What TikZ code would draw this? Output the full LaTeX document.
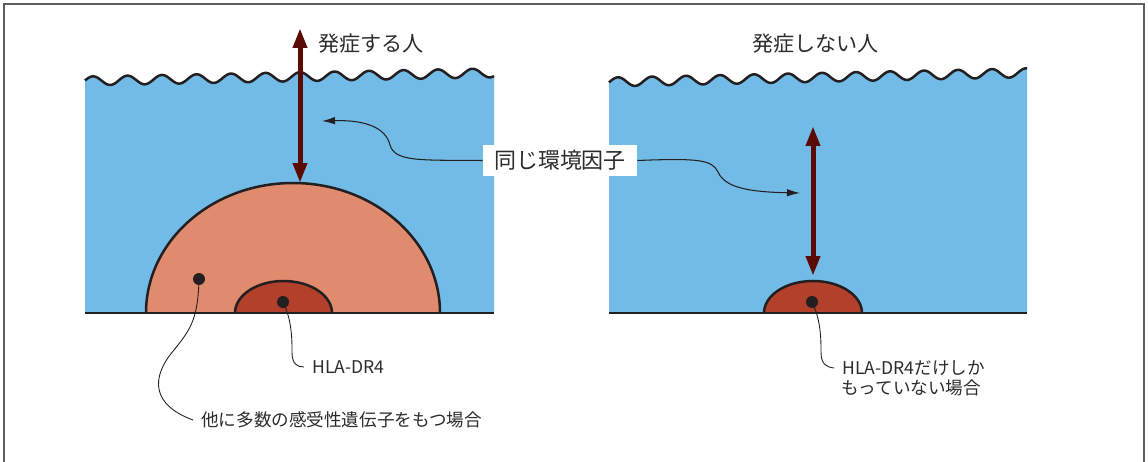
\documentclass[tikz,border=0pt]{standalone}
\usepackage{fontspec}
\setmainfont{Noto Sans CJK JP}
\usetikzlibrary{arrows.meta}
\definecolor{water}{HTML}{72BBE6}
\definecolor{salmon}{HTML}{E08A6E}
\definecolor{brick}{HTML}{B3402A}
\definecolor{maroon}{HTML}{5C0A05}
\definecolor{ink}{HTML}{231F20}
\definecolor{txt}{HTML}{2B2B2B}
\definecolor{framegray}{HTML}{5E5E5E}
\tikzset{
  waveline/.style={draw=ink, line width=0.05cm},
  groundline/.style={draw=ink, line width=0.05cm},
  dome/.style={draw=ink, line width=0.05cm},
  dot/.style={circle, fill=ink, inner sep=0pt, minimum size=0.24cm},
  bigarrow/.style={draw=maroon, line width=0.1cm, {Triangle[length=0.4cm,width=0.27cm]}-{Triangle[length=0.4cm,width=0.27cm]}},
  leader/.style={draw=ink, line width=0.5pt},
  pointer/.style={draw=ink, line width=0.6pt, -{Latex[length=0.26cm,width=0.15cm]}},
  title/.style={text=txt, inner sep=0pt, anchor=west, font=\fontsize{12}{14}\selectfont},
  note/.style={text=txt, inner sep=0.16cm, anchor=west, font=\fontsize{10}{12}\selectfont},
  labelbox/.style={fill=white, text=txt, inner sep=0pt, minimum width=3.08cm, minimum height=0.62cm, font=\fontsize{12.5}{14}\selectfont},
  framestyle/.style={draw=framegray, line width=0.04cm}
}
\begin{document}
\begin{tikzpicture}[x=0.02cm,y=-0.02cm]
\useasboundingbox (0,0) rectangle (1148,462);
% frame
\draw[framestyle] (4,470) -- (4,4) -- (1144,4) -- (1144,470);

% left water
\fill[water] (85,313) -- plot[domain=85:494,samples=300] (\x,{81-0.02*(\x-85)-4.5*cos((\x-93)*10.4348)}) -- (494,313) -- cycle;
\draw[waveline] plot[domain=85:494,samples=300] (\x,{81-0.02*(\x-85)-4.5*cos((\x-93)*10.4348)});
% right water
\fill[water] (609,313) -- plot[domain=609:1027,samples=300] (\x,{82-0.022*(\x-609)-4.5*cos((\x-618)*10.588)}) -- (1027,313) -- cycle;
\draw[waveline] plot[domain=609:1027,samples=300] (\x,{82-0.022*(\x-609)-4.5*cos((\x-618)*10.588)});

% domes
\filldraw[dome, fill=salmon] (146,313) arc[start angle=180, end angle=360, x radius=147, y radius=130];
\filldraw[dome, fill=brick] (235,313) arc[start angle=180, end angle=360, x radius=48.5, y radius=32];
\filldraw[dome, fill=brick] (764,313) arc[start angle=180, end angle=360, x radius=49, y radius=32];

% ground lines
\draw[groundline] (85,313) -- (494,313);
\draw[groundline] (609,313) -- (1027,313);

% dots
\node[dot] (d1) at (199,279) {};
\node[dot] (d2) at (283,302) {};
\node[dot] (d3) at (812,302) {};

% big arrows
\coordinate (a1t) at (300,28);
\coordinate (a1b) at (300,183);
\coordinate (a2t) at (813,126);
\coordinate (a2b) at (813,276);
\draw[bigarrow] (a1t) -- (a1b);
\draw[bigarrow] (a2t) -- (a2b);

% titles
\node[title] (t1) at (318,44) {発症する人};
\node[title] (t2) at (752,44) {発症しない人};

% label
\node[labelbox] (L) at (560,160.5) {同じ環境因子};
\coordinate (c1) at (322,121);
\coordinate (c2) at (800,193);
\draw[pointer] (L.west) .. controls (420,160) and (395,162) .. (390,145) .. controls (385,125) and (360,120) .. (c1);
\draw[pointer] (L.east) .. controls (700,158) and (712,160) .. (718,172) .. controls (725,188) and (750,192) .. (c2);

% notes
\node[note] (n1) at (193,420) {他に多数の感受性遺伝子をもつ場合};
\node[note] (n2) at (304,367) {HLA-DR4};
\node[note] (n3) at (834,368) {HLA-DR4だけしか};
\node[note] (n4) at (833,388) {もっていない場合};

% leaders
\draw[leader] (d1.center) .. controls (198,320) and (190,330) .. (174,350) .. controls (150,378) and (152,405) .. (n1.west);
\draw[leader] (d2.center) .. controls (292,320) and (292,340) .. (292,352) .. controls (292,364) and (297,367) .. (n2.west);
\draw[leader] (d3.center) .. controls (821,320) and (821,340) .. (821,352) .. controls (821,364) and (826,367) .. (n3.west);
\end{tikzpicture}
\end{document}
